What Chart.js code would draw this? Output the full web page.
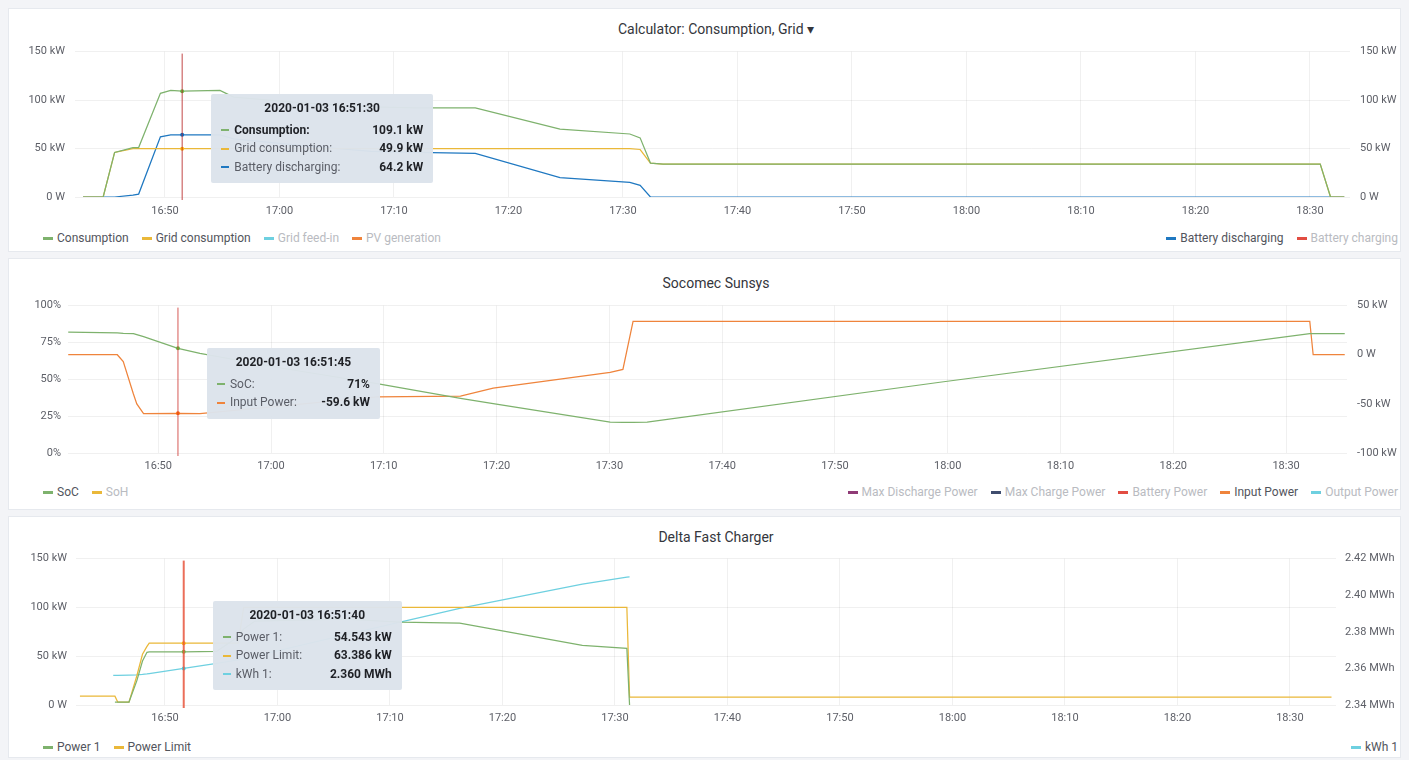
<!DOCTYPE html>
<html>
<head>
<meta charset="utf-8">
<title>Dashboard</title>
<script src="https://cdn.jsdelivr.net/npm/chart.js@4.4.1/dist/chart.umd.min.js"></script>
<style>
  html, body { margin: 0; padding: 0; }
  body { width: 1409px; height: 760px; background: #f3f4f7; position: relative; overflow: hidden; font-family: Roboto, "Noto Sans", sans-serif; }
  .panel { position: absolute; left: 8px; width: 1393px; background: #fff; border: 1px solid #e6e9ee; box-sizing: border-box; }
  .title { position: absolute; left: 566px; width: 300px; text-align: center; font-size: 14px; font-weight: 400; color: #34363c; line-height: 18px; }
  .box { position: absolute; left: 8px; width: 1393px; }
  .legend { position: absolute; display: flex; gap: 13px; font-size: 12px; line-height: 16px; color: #52545c; white-space: nowrap; }
  .legend .item { display: flex; align-items: center; }
  .legend i { display: inline-block; width: 10px; height: 3px; margin-right: 4px; }
  .legend .off { color: #b9bbc1; }
  .tip { position: absolute; display: none; box-sizing: border-box; background: rgba(220,227,235,0.97); padding: 6px 10px 7px; font-size: 12px; color: #5a5d66; border-radius: 2px; }
  .tip .tt { text-align: center; font-weight: 700; color: #1f2126; line-height: 16px; margin-bottom: 5px; }
  .tip .tr { display: flex; justify-content: space-between; line-height: 18.5px; }
  .tip .tr i { display: inline-block; width: 8px; height: 2px; vertical-align: middle; margin-right: 5px; }
  .tip .tv { font-weight: 700; color: #1f2126; }
  .tip .hl .tn { font-weight: 700; color: #1f2126; }
</style>
</head>
<body>
<div class="panel" style="top:8px;height:244px"></div>
<div class="panel" style="top:258px;height:252px"></div>
<div class="panel" style="top:516px;height:242px"></div>

<div class="title" style="top:20px">Calculator: Consumption, Grid ▾</div>
<div class="title" style="top:274px">Socomec Sunsys</div>
<div class="title" style="top:528px">Delta Fast Charger</div>

<div class="box" style="top:35px;height:187px"><canvas id="c1"></canvas></div>
<div class="box" style="top:289px;height:189px"><canvas id="c2"></canvas></div>
<div class="box" style="top:543px;height:187px"><canvas id="c3"></canvas></div>

<div class="legend" id="l1" style="top:230px;left:43px"></div>
<div class="legend" id="r1" style="top:230px;right:11px"></div>
<div class="legend" id="l2" style="top:484px;left:43px"></div>
<div class="legend" id="r2" style="top:484px;right:11px"></div>
<div class="legend" id="l3" style="top:739px;left:43px"></div>
<div class="legend" id="r3" style="top:739px;right:11px"></div>

<div class="tip" id="t1"></div>
<div class="tip" id="t2"></div>
<div class="tip" id="t3"></div>

<script>
// x values are minutes after 16:00 on 2020-01-03
const xTickValues = [50, 60, 70, 80, 90, 100, 110, 120, 130, 140, 150];
const xTickLabels = ['16:50', '17:00', '17:10', '17:20', '17:30', '17:40', '17:50', '18:00', '18:10', '18:20', '18:30'];

// Calculator: Consumption, Grid
const p1Times = [42.84, 44.6, 45.6, 47.2, 47.7, 49.6, 50.5, 51.5, 54.8, 56, 62, 68, 72, 77.1, 84.5, 90.6, 91.5, 92.4, 93.5, 150.9, 151.8, 153.0];
const p1Consumption = [0, 0, 46, 51, 51, 107, 110, 109.1, 110, 103, 97, 93, 92, 92, 70, 65, 61, 35, 34, 34, 0, 0];
const p1GridConsumption = [0, 0, 46, 50, 50, 50, 50, 49.9, 50, 50, 50, 50, 50, 50, 50, 50, 49, 35, 34, 34, 0, 0];
const p1BatteryDischarging = [0, 0, 0, 2, 3, 62, 64, 64.2, 64, 60, 53, 47, 46, 45, 20, 15, 12, 0, 0, 0, 0, 0];
const p1KwTicks = [0, 50, 100, 150];
const p1HoverTime = 51.5;

// Socomec Sunsys
const p2Times = [42.02, 46.37, 46.9, 47.8, 48.1, 48.7, 51.75, 53.7, 61.0, 69.4, 76.8, 79.7, 90.07, 91.2, 92.1, 93.35, 119.3, 152.1, 152.4, 155.2];
const p2SoC = [82, 81.5, 81.2, 81, 80.3, 79, 71, 67.6, 57.5, 47, 37, 33.5, 21, 20.8, 20.8, 21, 48, 81, 81, 81];
const p2InputPower = [0, 0, -7, -40, -50, -60, -59.6, -60, -52, -43, -42, -34, -18, -15, 34, 34, 34, 34, 0, 0];
const p2SocTicks = [0, 25, 50, 75, 100];
const p2PowerTicks = [-100, -50, 0, 50];
const p2HoverTime = 51.75;

// Delta Fast Charger
const p3Times = [42.44, 45.4, 45.55, 45.8, 46.8, 47.5, 48.0, 48.4, 48.6, 51.6667, 54.6, 56.5, 57.0, 58.0, 66.0, 70.9, 76.2, 87.1, 91.06, 91.3, 153.7];
const p3Power1 = [null, null, 3, 3, 3, 25, 45, 54, 54.5, 54.543, 55, 70, 78, 86, 88, 85, 84, 61, 58, 0, null];
const p3PowerLimit = [9, 9, 9, 3, 3, 30, 52, 60, 63.4, 63.386, 63.4, 63.4, 100, 100, 100, 100, 100, 100, 100, 8, 8];
const p3Kwh1 = [null, 2.3562, 2.3562, 2.3562, 2.3563, 2.3564, 2.3567, 2.3570, 2.3572, 2.3600, 2.3627, 2.3647, 2.3653, 2.3667, 2.3783, 2.3853, 2.3928, 2.4060, 2.4099, 2.4100, null];
const p3KwTicks = [0, 50, 100, 150];
const p3MwhTicks = [2.34, 2.36, 2.38, 2.40, 2.42];
const p3HoverTime = 51.6667;

const C = { green: '#7EB26D', yellow: '#EAB839', aqua: '#6ED0E0', orange: '#EF843C', red: '#E24D42', blue: '#1F78C1', plum: '#8F3B76', slate: '#3F4D6E' };
const tickColor = '#5e6068';
const gridColor = 'rgba(0,0,0,0.06)';
const tickFont = { family: 'Roboto', size: 11 };

const kw = v => v === 0 ? '0 W' : v + ' kW';
const pad2 = n => String(n).padStart(2, '0');
function stamp(m) {
  const s = Math.round(m * 60);
  return '2020-01-03 ' + (16 + Math.floor(s / 3600)) + ':' + pad2(Math.floor(s % 3600 / 60)) + ':' + pad2(s % 60);
}

function xAxis(min, max, padding) {
  return {
    type: 'linear', min: min, max: max,
    afterBuildTicks: a => { a.ticks = xTickValues.map(v => ({ value: v })); },
    afterFit: a => { a.height = 25; },
    ticks: { callback: v => xTickLabels[xTickValues.indexOf(v)], color: tickColor, font: tickFont, padding: padding, maxRotation: 0, autoSkip: false },
    grid: { color: gridColor, drawTicks: false },
    border: { display: false }
  };
}

function yAxis(position, ticks, width, padding, fmt, grid) {
  return {
    type: 'linear', position: position, min: ticks[0], max: ticks[ticks.length - 1],
    afterBuildTicks: a => { a.ticks = ticks.map(v => ({ value: v })); },
    afterFit: a => { a.width = width; },
    ticks: { callback: fmt, color: tickColor, font: tickFont, padding: padding },
    grid: { color: gridColor, drawTicks: false, drawOnChartArea: grid },
    border: { display: false }
  };
}

function series(label, times, vals, color, axis) {
  return {
    label: label, yAxisID: axis,
    data: times.map((t, i) => ({ x: t, y: vals[i] })),
    borderColor: color, backgroundColor: color,
    borderWidth: 1.25, pointRadius: 0, pointHoverRadius: 2, pointHoverBorderWidth: 0,
    tension: 0, fill: false
  };
}

// red vertical hover line, like the shared crosshair
const crosshair = {
  id: 'crosshair',
  afterDatasetsDraw(chart, args, opts) {
    const act = chart.getActiveElements();
    if (!act.length) return;
    const x = act[0].element.x;
    const area = chart.chartArea;
    const ctx = chart.ctx;
    ctx.save();
    ctx.strokeStyle = opts.color;
    ctx.lineWidth = opts.width;
    ctx.beginPath();
    ctx.moveTo(x, area.top + 2);
    ctx.lineTo(x, area.bottom + 3);
    ctx.stroke();
    ctx.restore();
  }
};

function tipHandler(id, width, fmts, hl) {
  return function (context) {
    const tooltip = context.tooltip;
    const chart = context.chart;
    const el = document.getElementById(id);
    if (!tooltip.dataPoints || !tooltip.dataPoints.length) return;
    const box = chart.canvas.parentNode;
    const pts = tooltip.dataPoints;
    let html = '<div class="tt">' + stamp(pts[0].parsed.x) + '</div>';
    pts.forEach(p => {
      const ds = p.dataset;
      html += '<div class="tr' + (p.datasetIndex === hl ? ' hl' : '') + '"><span class="tn"><i style="background:' + ds.borderColor + '"></i>' +
        ds.label + ':</span><span class="tv">' + fmts[p.datasetIndex](p.parsed.y) + '</span></div>';
    });
    el.innerHTML = html;
    el.style.width = width + 'px';
    el.style.left = (box.offsetLeft + pts[0].element.x + 29) + 'px';
    el.style.top = (box.offsetTop + chart.chartArea.top + 42) + 'px';
    el.style.display = 'block';
  };
}

function makeChart(canvasId, datasets, scales, tip, cross) {
  return new Chart(document.getElementById(canvasId), {
    type: 'line',
    data: { datasets: datasets },
    options: {
      responsive: true, maintainAspectRatio: false, animation: false, events: [],
      layout: { padding: { top: 3, left: 0, right: 0, bottom: 0 } },
      scales: scales,
      plugins: {
        legend: { display: false },
        tooltip: { enabled: false, animation: false, external: tip },
        crosshair: cross
      }
    },
    plugins: [crosshair]
  });
}

function hover(chart, times, t) {
  const idx = times.indexOf(t);
  const els = chart.data.datasets.map((d, i) => ({ datasetIndex: i, index: idx }));
  chart.setActiveElements(els);
  chart.update('none');
  chart.tooltip.setActiveElements(els, { x: 0, y: 0 });
  chart.draw();
}

function legend(id, items) {
  const el = document.getElementById(id);
  items.forEach(([name, color, on]) => {
    const s = document.createElement('span');
    s.className = 'item' + (on ? '' : ' off');
    s.innerHTML = '<i style="background:' + color + '"></i>' + name;
    el.appendChild(s);
  });
}

const kw1 = v => v === 0 ? '0 W' : v.toFixed(1) + ' kW';
const kw3 = v => v.toFixed(3) + ' kW';

const chart1 = makeChart('c1', [
  series('Consumption', p1Times, p1Consumption, C.green, 'y'),
  series('Grid consumption', p1Times, p1GridConsumption, C.yellow, 'y'),
  series('Battery discharging', p1Times, p1BatteryDischarging, C.blue, 'y2')
], {
  x: xAxis(42.14, 153.5, 8),
  y: yAxis('left', p1KwTicks, 67, 10, kw, true),
  y2: yAxis('right', p1KwTicks, 51, 10, kw, false)
}, tipHandler('t1', 222, [kw1, kw1, kw1], 0), { color: 'rgba(185,40,40,0.85)', width: 1 });

const chart2 = makeChart('c2', [
  series('SoC', p2Times, p2SoC, C.green, 'y'),
  series('Input Power', p2Times, p2InputPower, C.orange, 'y2')
], {
  x: xAxis(42.0, 155.4, 7),
  y: yAxis('left', p2SocTicks, 60, 7, v => v + '%', true),
  y2: yAxis('right', p2PowerTicks, 54, 10, kw, false)
}, tipHandler('t2', 173, [v => Math.round(v) + '%', kw1], -1), { color: 'rgba(205,50,45,0.8)', width: 1 });

const chart3 = makeChart('c3', [
  series('Power 1', p3Times, p3Power1, C.green, 'y'),
  series('Power Limit', p3Times, p3PowerLimit, C.yellow, 'y'),
  series('kWh 1', p3Times, p3Kwh1, C.aqua, 'y2')
], {
  x: xAxis(42.09, 154.1, 7),
  y: yAxis('left', p3KwTicks, 68, 9, kw, true),
  y2: yAxis('right', p3MwhTicks, 65, 9, v => v.toFixed(2) + ' MWh', false)
}, tipHandler('t3', 189, [kw3, kw3, v => v.toFixed(3) + ' MWh'], -1), { color: 'rgba(232,85,60,0.85)', width: 2 });

hover(chart1, p1Times, p1HoverTime);
hover(chart2, p2Times, p2HoverTime);
hover(chart3, p3Times, p3HoverTime);

legend('l1', [['Consumption', C.green, true], ['Grid consumption', C.yellow, true], ['Grid feed-in', C.aqua, false], ['PV generation', C.orange, false]]);
legend('r1', [['Battery discharging', C.blue, true], ['Battery charging', C.red, false]]);
legend('l2', [['SoC', C.green, true], ['SoH', C.yellow, false]]);
legend('r2', [['Max Discharge Power', C.plum, false], ['Max Charge Power', C.slate, false], ['Battery Power', C.red, false], ['Input Power', C.orange, true], ['Output Power', C.aqua, false]]);
legend('l3', [['Power 1', C.green, true], ['Power Limit', C.yellow, true]]);
legend('r3', [['kWh 1', C.aqua, true]]);
</script>
</body>
</html>
